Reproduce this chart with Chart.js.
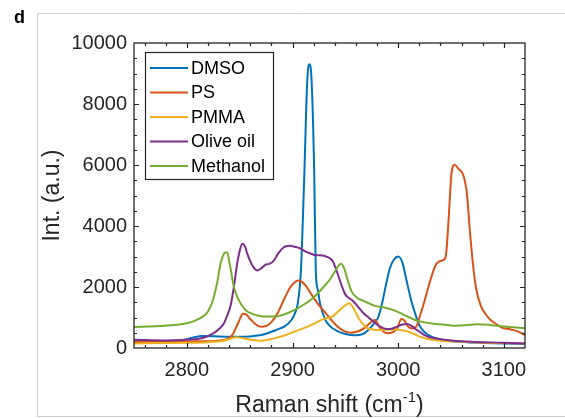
<!DOCTYPE html>
<html>
<head>
<meta charset="utf-8">
<script src="https://cdn.jsdelivr.net/npm/chart.js@4.4.1/dist/chart.umd.min.js"></script>
<style>
  html, body { margin: 0; padding: 0; background: #ffffff; }
  #wrap { position: relative; width: 565px; height: 418px; }
</style>
</head>
<body>
<div id="wrap"><canvas id="c" width="565" height="418"></canvas></div>
<script>
// Raman spectra: shift (cm^-1) and intensity (a.u.) for each sample
const seriesNames = ['DMSO', 'PS', 'PMMA', 'Olive oil', 'Methanol'];
const seriesColors = ['#0072BD', '#D95319', '#EDB120', '#7E2F8E', '#77AC30'];

const dmsoShift = [2750,2770,2790,2800,2808,2815,2825,2840,2855,2865,2875,2885,2892,2899,2903,2905,2908,2911,2914,2916,2918,2920.5,2922,2924,2926,2931,2936,2942,2950,2959,2966,2972,2977,2981,2985,2988,2992,2996,3000,3004,3008,3012,3016,3020,3025,3030,3040,3055,3075,3100,3120];
const dmsoInt   = [220,230,250,290,360,390,385,370,370,400,470,600,700,920,1200,1470,2560,5500,8800,9300,8800,5800,2560,1900,1470,920,700,560,460,420,450,600,800,1000,1500,2000,2600,2900,3000,2800,2200,1600,1140,750,520,400,280,210,170,150,130];

const psShift = [2750,2780,2810,2830,2838,2843,2847,2850,2853,2856,2860,2865,2870,2875,2880,2886,2892,2898,2902,2905.5,2909,2913,2918,2924,2930,2936,2942,2948,2955,2962,2968,2972,2975,2978,2982,2986,2990,2995,2999,3003,3006,3009,3013,3017,3021,3025,3029,3033,3036,3039,3042.5,3045,3047.5,3050.5,3053.5,3057,3061.5,3065,3068,3071,3074,3078,3083,3088,3093,3098,3105,3111,3116,3120];
const psInt   = [200,210,220,240,290,420,700,930,1120,1100,950,780,700,720,850,1150,1600,2000,2150,2210,2170,2020,1750,1450,1200,950,720,570,500,550,650,780,870,920,700,540,480,520,640,950,900,720,640,700,1100,1550,2050,2500,2750,2840,2880,3000,4100,5740,6010,5870,5680,5080,3770,2670,1900,1400,1100,900,780,670,620,570,500,420];

const pmmaShift = [2750,2780,2800,2820,2835,2842,2846,2850,2856,2862,2870,2878,2885,2893,2902,2912,2921,2928,2934,2938,2943,2947,2950,2953.5,2957,2960,2964,2968,2972,2977,2982,2990,2998,3004,3009,3015,3020,3025,3032,3041,3055,3075,3100,3120];
const pmmaInt   = [150,160,170,190,240,310,350,340,300,260,240,280,340,420,540,670,810,930,990,1040,1190,1320,1400,1470,1350,1150,900,740,640,600,590,600,610,580,540,460,380,320,270,240,210,180,160,150];

const oliveShift = [2750,2780,2800,2815,2825,2831,2835,2838,2841.5,2844.5,2847.8,2850.5,2852.5,2855,2857,2860,2863,2866.5,2870,2874,2878,2882,2886.5,2890,2893,2898,2902,2907,2912,2917,2921,2926,2931,2935,2938,2941,2944,2947,2950,2953,2957,2962,2967,2972,2977,2983,2989,2994,2999,3004,3008,3012,3016,3020,3025,3030,3040,3055,3080,3100,3120];
const oliveInt   = [270,250,270,330,480,640,800,1050,1400,2000,2800,3250,3420,3330,3110,2850,2650,2540,2600,2720,2760,2850,3100,3250,3330,3350,3320,3270,3170,3100,3050,3040,3010,2950,2850,2600,2300,2000,1750,1650,1550,1350,1150,1000,850,700,620,630,700,770,790,740,630,540,420,350,290,230,190,170,150];

const methShift = [2750,2770,2790,2800,2808,2815,2820,2825,2829,2832,2835,2838,2841,2844.5,2848,2852,2856,2862,2868,2875,2883,2892,2902,2912,2921,2928,2935,2940,2943,2946,2949,2952,2956,2961,2966,2972,2978,2987,2997,3007,3016,3025,3035,3045,3055,3065,3075,3085,3095,3105,3120];
const methInt   = [690,710,760,810,900,1030,1200,1600,2200,2790,3080,3140,2670,2010,1650,1400,1230,1120,1060,1030,1030,1100,1250,1450,1690,1950,2230,2500,2680,2760,2600,2250,1850,1650,1560,1470,1380,1330,1225,1060,920,840,790,760,730,750,780,760,720,690,650];

const xTicks = [2800, 2900, 3000, 3100];
const yTicks = [0, 2000, 4000, 6000, 8000, 10000];
const xRange = [2750, 3120];
const yRange = [0, 10000];

const shifts = [dmsoShift, psShift, pmmaShift, oliveShift, methShift];
const ints = [dmsoInt, psInt, pmmaInt, oliveInt, methInt];

const FONT = '"Liberation Sans", Arial, Helvetica, sans-serif';
const AXIS_COLOR = '#262626';

const datasets = seriesNames.map((name, i) => ({
  label: name,
  data: shifts[i].map((s, k) => ({ x: s, y: ints[i][k] })),
  borderColor: seriesColors[i],
  backgroundColor: seriesColors[i],
  borderWidth: 2,
  pointRadius: 0,
  showLine: true,
  fill: false,
  cubicInterpolationMode: 'monotone',
  order: seriesNames.length - 1 - i
}));

// Box, inward ticks, axis titles, panel letter and legend
const decor = {
  id: 'decor',
  beforeDraw(chart) {
    const ctx = chart.ctx;
    ctx.save();
    ctx.fillStyle = '#ffffff';
    ctx.fillRect(0, 0, chart.width, chart.height);
    ctx.strokeStyle = '#cfcfcf';
    ctx.lineWidth = 1;
    ctx.beginPath();
    ctx.moveTo(chart.width, 13.5);
    ctx.lineTo(37.5, 13.5);
    ctx.lineTo(37.5, 416.5);
    ctx.lineTo(chart.width, 416.5);
    ctx.stroke();
    ctx.restore();
  },
  afterDatasetsDraw(chart) {
    const ctx = chart.ctx;
    const a = chart.chartArea;
    const xs = chart.scales.x, ys = chart.scales.y;
    ctx.save();
    ctx.strokeStyle = AXIS_COLOR;
    ctx.lineWidth = 1.3;
    ctx.strokeRect(a.left, a.top, a.right - a.left, a.bottom - a.top);

    ctx.lineWidth = 1.2;
    ctx.beginPath();
    for (let v = xRange[0] + 10; v < xRange[1]; v += 20) {
      const major = xTicks.includes(v);
      const len = major ? 5 : 3;
      const px = Math.round(xs.getPixelForValue(v)) + 0.5;
      ctx.moveTo(px, a.bottom); ctx.lineTo(px, a.bottom - len);
      ctx.moveTo(px, a.top); ctx.lineTo(px, a.top + len);
    }
    for (let v = yRange[0] + 500; v < yRange[1]; v += 500) {
      const major = yTicks.includes(v);
      const len = major ? 5 : 3;
      const py = Math.round(ys.getPixelForValue(v)) + 0.5;
      ctx.moveTo(a.left, py); ctx.lineTo(a.left + len, py);
      ctx.moveTo(a.right, py); ctx.lineTo(a.right - len, py);
    }
    ctx.stroke();

    // axis titles
    ctx.fillStyle = AXIS_COLOR;
    const cx = (a.left + a.right) / 2;
    const mainFont = '23px ' + FONT;
    const supFont = '15px ' + FONT;
    const partA = 'Raman shift (cm', partB = '-1', partC = ')';
    ctx.font = mainFont; const wA = ctx.measureText(partA).width; const wC = ctx.measureText(partC).width;
    ctx.font = supFont; const wB = ctx.measureText(partB).width;
    let x0 = cx - (wA + wB + wC) / 2;
    const base = 412;
    ctx.textBaseline = 'alphabetic';
    ctx.textAlign = 'left';
    ctx.font = mainFont; ctx.fillText(partA, x0, base);
    ctx.font = supFont; ctx.fillText(partB, x0 + wA, base - 10);
    ctx.font = mainFont; ctx.fillText(partC, x0 + wA + wB, base);

    ctx.save();
    ctx.translate(53, (a.top + a.bottom) / 2);
    ctx.rotate(-Math.PI / 2);
    ctx.textAlign = 'center';
    ctx.textBaseline = 'middle';
    ctx.font = mainFont;
    ctx.fillText('Int. (a.u.)', 0, 0);
    ctx.restore();

    ctx.font = 'bold 18px ' + FONT;
    ctx.fillStyle = '#000000';
    ctx.textAlign = 'left';
    ctx.textBaseline = 'alphabetic';
    ctx.fillText('d', 14, 23);

    // legend
    const lx = 145.5, ly = 52.5, lw = 128, lh = 127;
    ctx.fillStyle = '#ffffff';
    ctx.fillRect(lx, ly, lw, lh);
    ctx.strokeStyle = AXIS_COLOR;
    ctx.lineWidth = 1.2;
    ctx.strokeRect(lx, ly, lw, lh);
    ctx.font = '18px ' + FONT;
    ctx.textBaseline = 'middle';
    chart.data.datasets.forEach((ds, i) => {
      const ry = 68 + i * 24.5;
      ctx.strokeStyle = ds.borderColor;
      ctx.lineWidth = 2;
      ctx.beginPath();
      ctx.moveTo(150, ry); ctx.lineTo(188, ry);
      ctx.stroke();
      ctx.fillStyle = '#000000';
      ctx.fillText(ds.label, 191, ry + 1);
    });
    ctx.restore();
  }
};

new Chart(document.getElementById('c'), {
  type: 'scatter',
  data: { datasets },
  options: {
    responsive: false,
    animation: false,
    devicePixelRatio: 1,
    layout: { padding: { left: 0, right: 40, top: 43, bottom: 0 } },
    plugins: { legend: { display: false }, tooltip: { enabled: false } },
    scales: {
      x: {
        type: 'linear',
        min: xRange[0], max: xRange[1],
        afterBuildTicks: s => { s.ticks = xTicks.map(v => ({ value: v })); },
        afterFit: s => { s.height = 70; },
        grid: { display: false, drawTicks: false },
        border: { display: false },
        ticks: { color: AXIS_COLOR, font: { family: FONT, size: 20 }, padding: 10, maxRotation: 0, callback: v => String(v) }
      },
      y: {
        type: 'linear',
        min: yRange[0], max: yRange[1],
        afterBuildTicks: s => { s.ticks = yTicks.map(v => ({ value: v })); },
        afterFit: s => { s.width = 134; },
        grid: { display: false, drawTicks: false },
        border: { display: false },
        ticks: { color: AXIS_COLOR, font: { family: FONT, size: 20 }, padding: 7, callback: v => String(v) }
      }
    }
  },
  plugins: [decor]
});
</script>
</body>
</html>
